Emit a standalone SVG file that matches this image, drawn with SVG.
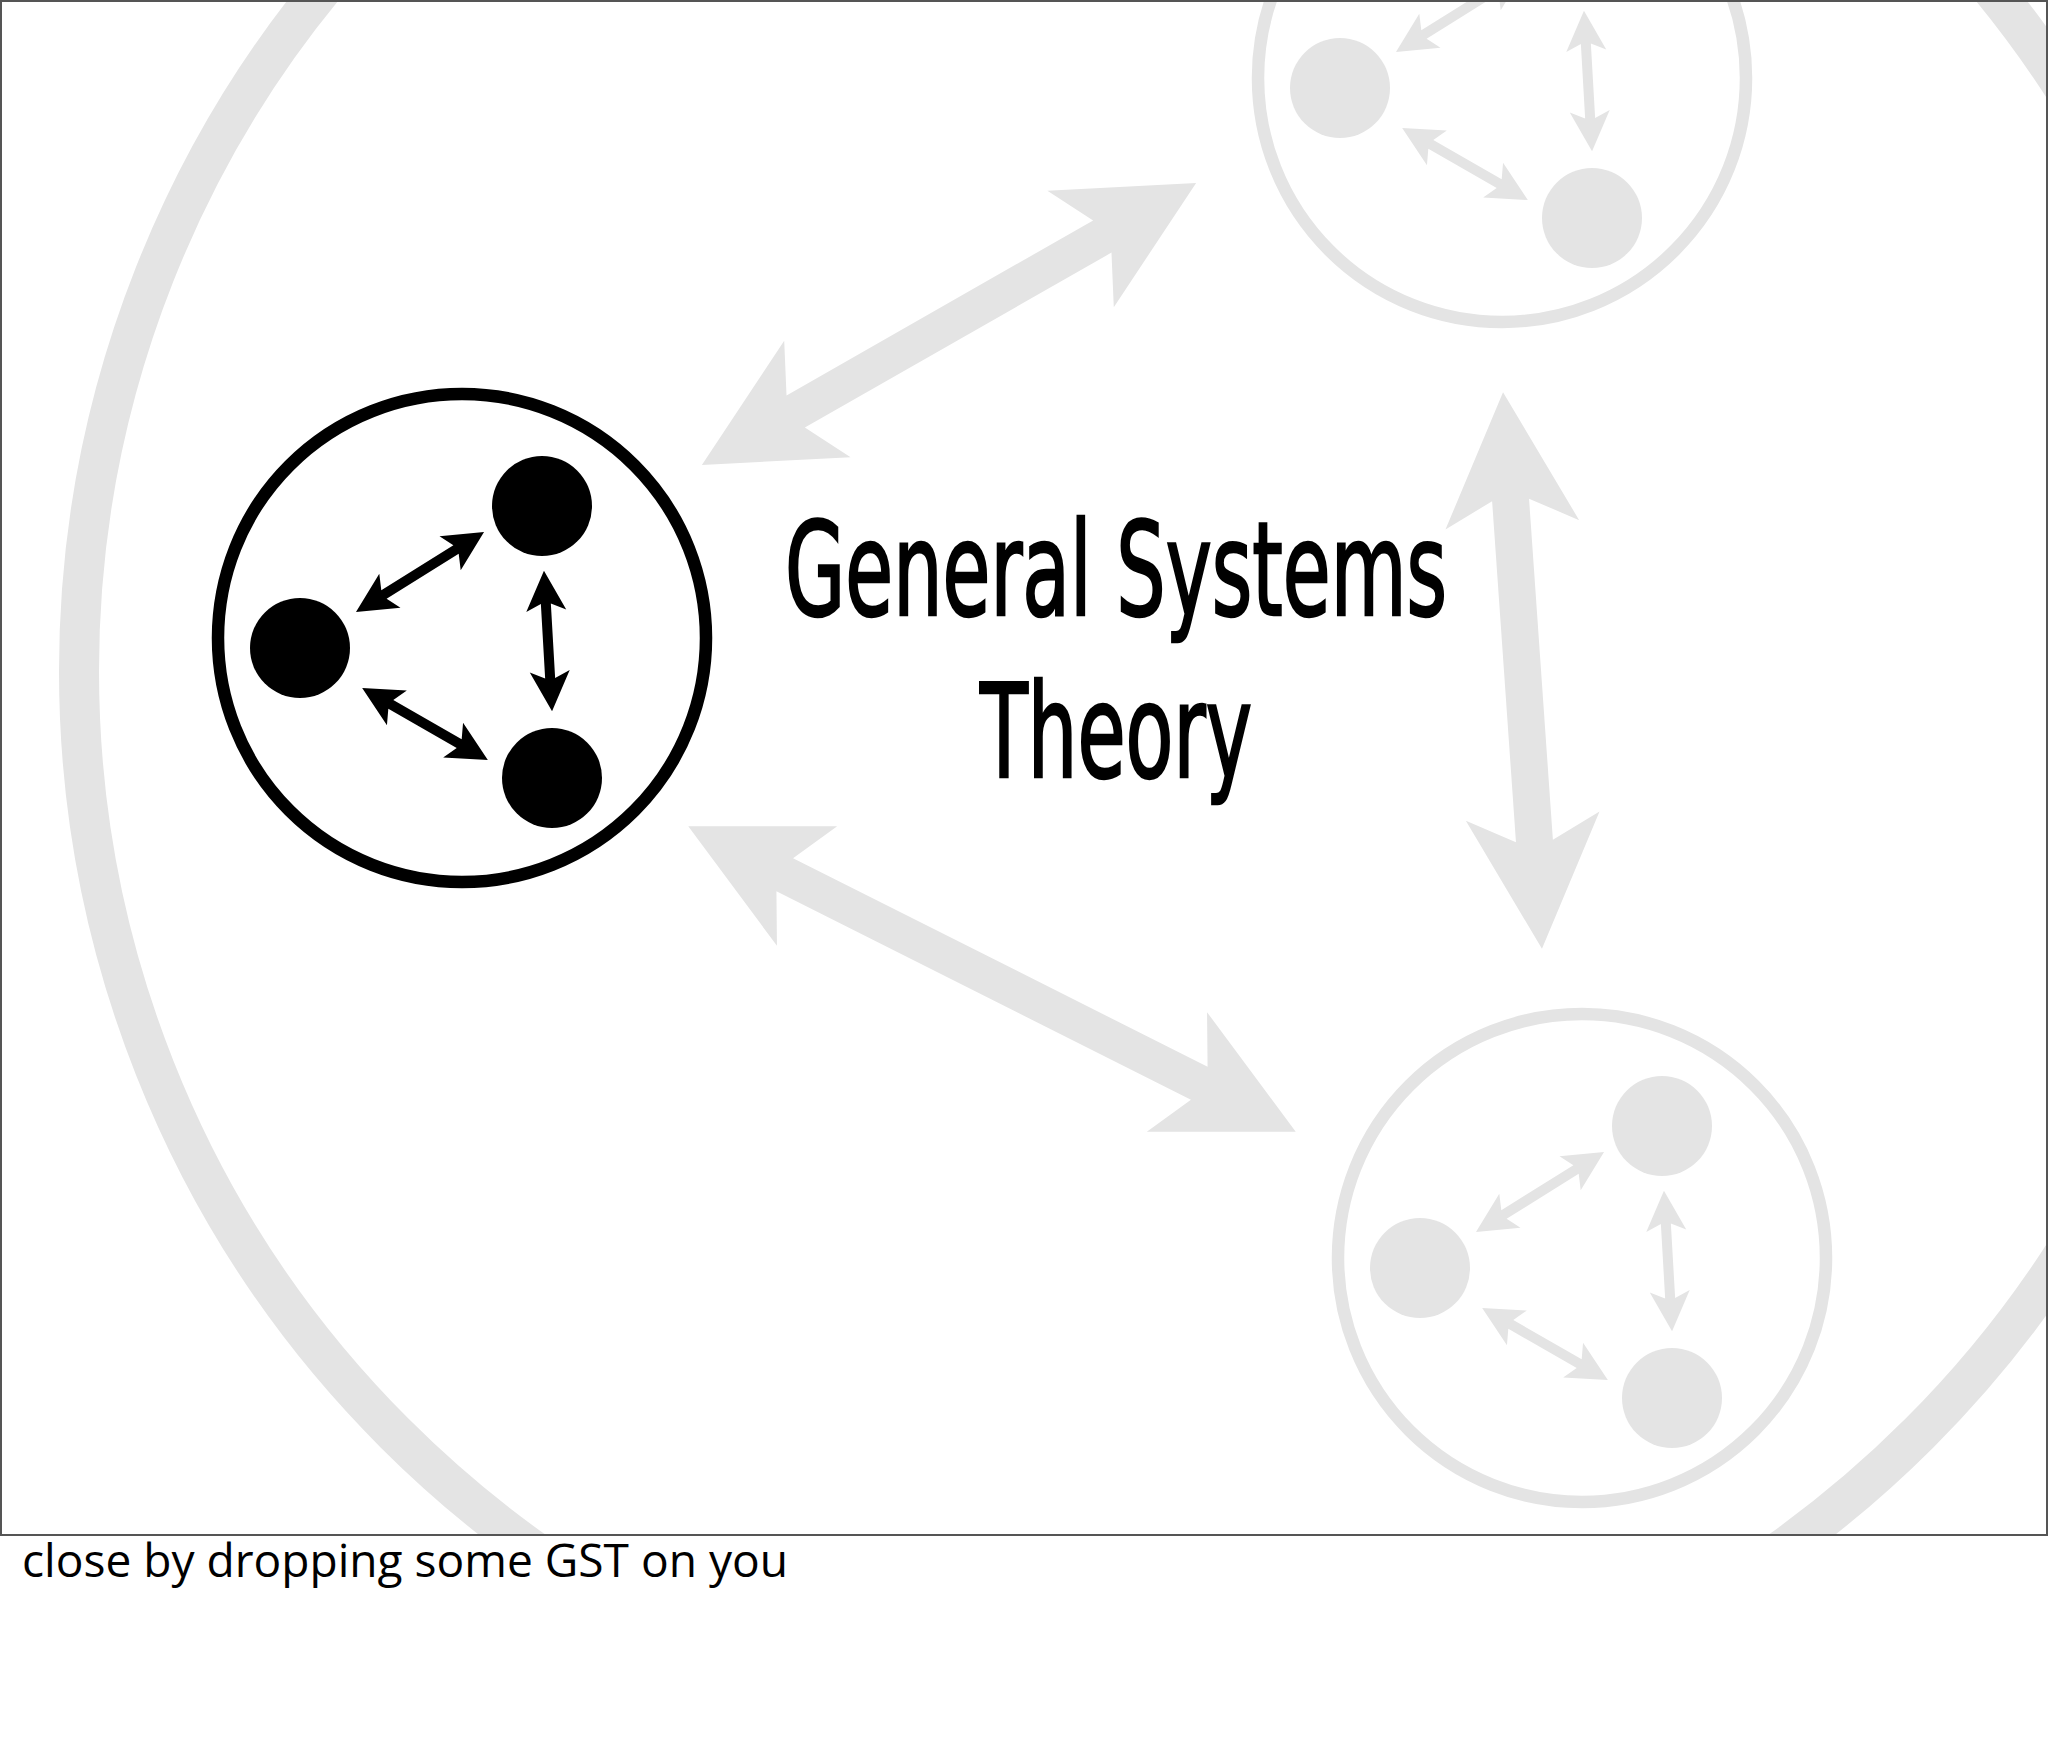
<svg xmlns="http://www.w3.org/2000/svg" xmlns:xlink="http://www.w3.org/1999/xlink" width="2048" height="1744" viewBox="0 0 2048 1744">
<style>
  .g{fill:#e4e4e4}
  .k{fill:#000}
  .ringg{fill:none;stroke:#e4e4e4;stroke-width:12.5}
  .ringk{fill:none;stroke:#000;stroke-width:12.5}
  .title{font-family:"Liberation Sans Narrow","DejaVu Sans Condensed","Liberation Sans",sans-serif;font-weight:normal;font-size:130px;fill:#000;stroke:#000;stroke-width:2.5}
  .caption{font-family:"Open Sans","Noto Sans","DejaVu Sans",sans-serif;font-size:46px;fill:#000}
</style>
<defs>
  <clipPath id="slide"><rect x="0" y="0" width="2048" height="1535"/></clipPath>
  <path id="sa" d="M-75.5,0 L-35.5,-20 L-42.5,-5 L42.5,-5 L35.5,-20 L75.5,0 L35.5,20 L42.5,5 L-42.5,5 L-35.5,20Z"/>
  <path id="sb" d="M-70.3,0 L-30.3,-20 L-37.3,-5 L37.3,-5 L30.3,-20 L70.3,0 L30.3,20 L37.3,5 L-37.3,5 L-30.3,20Z"/>
  <path id="sc" d="M-72.4,0 L-32.4,-20 L-39.4,-5 L39.4,-5 L32.4,-20 L72.4,0 L32.4,20 L39.4,5 L-39.4,5 L-32.4,20Z"/>
</defs>
<rect x="0" y="0" width="2048" height="1744" fill="#fff"/>
<g clip-path="url(#slide)">
  <circle id="environment" cx="1157" cy="671" r="1078" fill="none" stroke="#e4e4e4" stroke-width="40"/>

  <g id="system-top">
    <circle class="ringg" cx="1502" cy="78" r="244"/>
    <circle id="top-dot-left" class="g" cx="1340" cy="88" r="50"/>
    <circle id="top-dot-upper" class="g" cx="1582" cy="-54" r="50"/>
    <circle id="top-dot-lower" class="g" cx="1592" cy="218" r="50"/>
  </g>
  <g id="system-bottom">
    <circle class="ringg" cx="1582" cy="1258" r="244"/>
    <circle id="bottom-dot-left" class="g" cx="1420" cy="1268" r="50"/>
    <circle id="bottom-dot-upper" class="g" cx="1662" cy="1126" r="50"/>
    <circle id="bottom-dot-lower" class="g" cx="1672" cy="1398" r="50"/>
  </g>
  <g id="system-main">
    <circle class="ringk" cx="462" cy="638" r="244"/>
    <circle id="main-dot-left" class="k" cx="300" cy="648" r="50"/>
    <circle id="main-dot-upper" class="k" cx="542" cy="506" r="50"/>
    <circle id="main-dot-lower" class="k" cx="552" cy="778" r="50"/>
  </g>

  <g id="connectors">
    <path class="g" transform="translate(949,324) rotate(-29.7)" d="M-284.5,0 L-151.5,-67 L-176.5,-18.5 L176.5,-18.5 L151.5,-67 L284.5,0 L151.5,67 L176.5,18.5 L-176.5,18.5 L-151.5,67Z"/>
    <path class="g" transform="translate(992,979) rotate(26.7)" d="M-340,0 L-207,-67 L-232,-18.5 L232,-18.5 L207,-67 L340,0 L207,67 L232,18.5 L-232,18.5 L-207,67Z"/>
    <path class="g" transform="translate(1522.5,670.5) rotate(86)" d="M-279,0 L-146,-67 L-171,-18.5 L171,-18.5 L146,-67 L279,0 L146,67 L171,18.5 L-171,18.5 L-146,67Z"/>

    <use xlink:href="#sa" class="k" transform="translate(462,638) translate(-42,-66) rotate(-32)"/>
    <use xlink:href="#sb" class="k" transform="translate(462,638) translate(86,3) rotate(86.7)"/>
    <use xlink:href="#sc" class="k" transform="translate(462,638) translate(-37,86) rotate(29.8)"/>

    <use xlink:href="#sa" class="g" transform="translate(1502,78) translate(-42,-66) rotate(-32)"/>
    <use xlink:href="#sb" class="g" transform="translate(1502,78) translate(86,3) rotate(86.7)"/>
    <use xlink:href="#sc" class="g" transform="translate(1502,78) translate(-37,86) rotate(29.8)"/>

    <use xlink:href="#sa" class="g" transform="translate(1582,1258) translate(-42,-66) rotate(-32)"/>
    <use xlink:href="#sb" class="g" transform="translate(1582,1258) translate(86,3) rotate(86.7)"/>
    <use xlink:href="#sc" class="g" transform="translate(1582,1258) translate(-37,86) rotate(29.8)"/>
  </g>

  <g id="title">
    <text class="title" x="1116" y="615" text-anchor="middle" textLength="662" lengthAdjust="spacingAndGlyphs">General Systems</text>
    <text class="title" x="1116" y="777" text-anchor="middle" textLength="272" lengthAdjust="spacingAndGlyphs">Theory</text>
  </g>
</g>
<rect x="1" y="1" width="2046" height="1534" fill="none" stroke="#555" stroke-width="2"/>
<text class="caption" x="22" y="1577" textLength="766" lengthAdjust="spacingAndGlyphs">close by dropping some GST on you</text>
</svg>
